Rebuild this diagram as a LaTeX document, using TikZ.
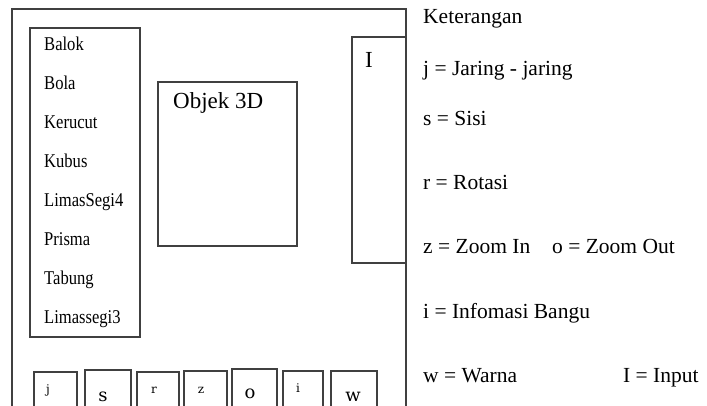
\documentclass[tikz,border=0pt]{standalone}
\usepackage{fontspec}
\setmainfont{Liberation Serif}
\newfontfamily\btnfont{DejaVu Serif}
\newcommand\lsttxt[1]{\scalebox{0.85}[1]{#1}}
\begin{document}
\begin{tikzpicture}[x=1pt,y=-1pt,
  box/.style={draw=black!75, line width=1.1pt},
  listtxt/.style={anchor=base west, inner sep=0pt, font=\fontsize{19.5}{21}\selectfont},
  legtxt/.style={anchor=base west, inner sep=0pt, font=\fontsize{21.5}{23}\selectfont},
  bigtxt/.style={anchor=base west, inner sep=0pt, font=\fontsize{23}{25}\selectfont},
  btnsmall/.style={anchor=base, inner sep=0pt, font=\btnfont\fontsize{12}{13}\selectfont},
  btnbig/.style={anchor=base, inner sep=0pt, font=\btnfont\fontsize{18}{19}\selectfont}]
\useasboundingbox (0,0) rectangle (707,405);
\clip (0,0) rectangle (707,405);
% frame
\draw[box] (12,420) -- (12,9) -- (406,9) -- (406,420);
% list box
\draw[box] (30,28) rectangle (140,337);
\node[listtxt] (l1) at (44,50.5) {\lsttxt{Balok}};
\node[listtxt] (l2) at (44,89.5) {\lsttxt{Bola}};
\node[listtxt] (l3) at (44,128.5) {\lsttxt{Kerucut}};
\node[listtxt] (l4) at (44,167.5) {\lsttxt{Kubus}};
\node[listtxt] (l5) at (44,206.5) {\lsttxt{LimasSegi4}};
\node[listtxt] (l6) at (44,245.5) {\lsttxt{Prisma}};
\node[listtxt] (l7) at (44,284.5) {\lsttxt{Tabung}};
\node[listtxt] (l8) at (44,323) {\lsttxt{Limassegi3}};
% object box
\draw[box] (158,82) rectangle (297,246);
\node[bigtxt] (obj) at (173,108) {Objek 3D};
% input box
\draw[box] (352,37) rectangle (406,263);
\node[bigtxt] (inp) at (365,67) {I};
% buttons
\draw[box] (34,372) rectangle (77,420);
\draw[box] (85,370) rectangle (131,420);
\draw[box] (137,372) rectangle (179,420);
\draw[box] (184,371) rectangle (227,420);
\draw[box] (232,369) rectangle (277,420);
\draw[box] (283,371) rectangle (323,420);
\draw[box] (331,371) rectangle (377,420);
\node[btnsmall] (bj) at (48,393) {j};
\node[btnbig] (bs) at (103,401) {s};
\node[btnsmall] (br) at (154,393) {r};
\node[btnsmall] (bz) at (201,393) {z};
\node[btnbig] (bo) at (250,398) {o};
\node[btnsmall] (bi) at (298,392) {i};
\node[btnbig] (bw) at (353,401) {w};
% legend
\node[legtxt] (k0) at (423,23) {Keterangan};
\node[legtxt] (k1) at (423,75) {j = Jaring - jaring};
\node[legtxt] (k2) at (423,125) {s = Sisi};
\node[legtxt] (k3) at (423,189) {r = Rotasi};
\node[legtxt] (k4) at (423,253) {z = Zoom In};
\node[legtxt] (k5) at (552,253) {o = Zoom Out};
\node[legtxt] (k6) at (423,318) {i = Infomasi Bangu};
\node[legtxt] (k7) at (423,382) {w = Warna};
\node[legtxt] (k8) at (623,382) {I = Input};
\end{tikzpicture}
\end{document}
